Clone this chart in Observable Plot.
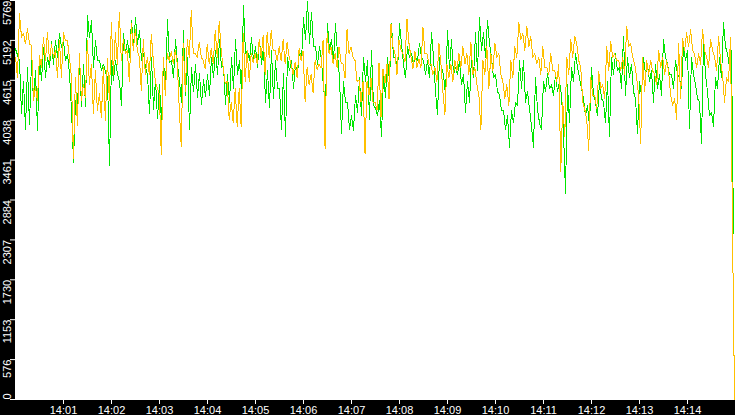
<!DOCTYPE html>
<html><head><meta charset="utf-8">
<script src="https://cdn.jsdelivr.net/npm/d3@7"></script>
<script src="https://cdn.jsdelivr.net/npm/@observablehq/plot@0.6"></script>
<style>html,body{margin:0;padding:0;background:#000;overflow:hidden}</style>
</head><body><div id="chart"></div>
<script>
const startTime = "2024-01-01T14:00:00Z";
const spanSeconds = 900;
const greenEndSeconds = 897.5;
const orangeEndSeconds = 898.8;
const yMax = 5769;
const yTickLabels = ["0","576","1153","1730","2307","2884","3461","4038","4615","5192","5769"];
const xTickLabels = ["14:01","14:02","14:03","14:04","14:05","14:06","14:07","14:08","14:09","14:10","14:11","14:12","14:13","14:14"];

const green = [
5070,4980,4900,4130,4600,3910,4800,3970,4900,4320,4760,3890,4950,4610,5090,4660,4950,4800,5170,4850,5190,4950,5290,5090,5190,4900,4990,4710,4180,3430,4320,4280,4850,4230,4850,4230,5550,5240,5480,4800,5190,4900,4900,4760,4850,4730,
4650,3380,4900,4610,4900,4700,4600,4250,5290,5000,5190,4950,5480,5100,5520,5140,5340,4900,5000,4800,4700,4130,4950,4200,4620,4060,4550,4000,4900,4500,5490,4870,4900,4650,5200,4850,4600,4300,5330,4400,4950,3900,4800,4450,
4850,4370,4710,4270,4620,4380,4700,4400,4950,4650,5050,4700,5200,4800,4820,4270,4700,4300,4950,4500,5200,4700,4900,4450,5700,5000,5050,4900,5230,4900,5100,4800,5200,4850,5100,4300,4750,4220,5050,4350,4900,4500,4500,3900,4720,3800,
4950,4750,4900,4500,4850,4700,5050,4900,5520,5200,5760,5150,5600,5100,5100,4850,5100,4900,4500,4270,5430,5050,5200,4900,5430,5000,4650,3850,4600,4300,4300,3900,4100,3890,4400,4150,4650,4100,4950,4600,4900,4050,5050,4250,
4210,4100,4320,3800,4700,4370,4950,4580,5430,4950,4950,4720,5430,5150,4850,4650,5100,4950,5000,4850,4950,4900,5150,4950,4900,4700,4900,4650,5300,4950,4450,4120,4950,4800,4700,4400,5340,4780,5200,4700,4800,4700,4900,4550,4700,4150,
4600,4300,4950,4650,5300,4750,5520,5050,5300,4950,5480,5150,4950,4650,4700,4450,4400,4180,4180,3900,4100,3650,4180,4000,4300,4250,4900,4500,4900,4300,4450,4200,3950,3650,4650,4200,4000,3900,4600,4450,4720,4500,4550,4400,
4700,4450,4600,4400,3860,2980,4550,4000,4800,4600,5000,4800,4650,4500,4350,4100,4250,3950,4800,4400,4300,4100,4600,4350,4300,4000,4600,3800,4950,4700,5000,4750,4800,4500,5250,4400,4950,4650,4850,4450,4350,3850,4600,4400,4950,4700,
4850,4600,4750,4300,4850,4500,4700,4400,5200,4950,4850,4700,4700,4500,4900,4700,4650,4500,5100,4900,5050,3920,4950,4700,4550,4350,4300,3700,5200,4700,4450,4100,4150,3950,4650,4500,4950,4650,5450,5100,5000,4800,5050,2400
];

const orange = [
4950,4660,5580,5240,5290,5140,5360,5140,5120,4320,4520,4320,4970,4800,5240,4900,5310,4900,5140,4950,5050,4660,5190,4660,5310,5190,5190,4950,4660,3480,4660,3960,5000,4320,4560,4370,5190,4560,4850,4130,4760,4180,4420,4080,4800,4030,
4930,4320,5450,4700,5300,4850,5600,4900,5200,5000,5050,4590,5430,5050,5350,5050,4950,4470,5200,4700,4950,4700,5280,4900,4600,4500,4420,3540,4950,4400,5000,4900,5030,4850,5050,4850,4200,3650,5150,4450,5200,4950,5620,5000,
5000,4950,5170,4950,4900,4780,5140,4850,5070,4850,5330,4950,5470,5040,4800,4560,4600,4050,4300,4000,4500,3950,4500,3940,5300,4600,5050,4600,5000,4870,5000,4850,5200,4950,5270,4700,5310,4950,5330,5050,5050,4900,5100,4900,5200,4850,
5170,4950,4850,4700,4870,4650,5080,4900,5040,4300,4800,4550,4700,4440,4900,4770,4850,4800,5200,3620,5290,5000,5100,4850,5000,4800,5100,4870,4850,4650,5350,5000,5100,4950,4900,4600,4620,4300,4600,3550,4600,4400,4650,4300,
4300,4180,4870,4080,4780,4570,4850,4350,5430,5100,5000,4700,5200,5050,5000,4880,5500,5150,4950,4780,5030,4800,4920,4800,5380,5000,5000,4850,4850,4700,4800,4600,5150,4850,4450,4120,4850,4650,4850,4600,4900,4750,5000,4800,5100,4850,
5000,4700,5170,4700,4800,4550,4400,3900,4900,4700,5100,4500,5000,4750,5150,4950,5000,4700,4600,4350,4550,4250,4900,4650,5100,4950,5450,5200,5300,5050,5400,5100,5250,4950,5000,4850,4950,4700,5100,4800,4800,4700,5000,4750,
4750,4600,4850,3300,4300,3800,4950,4700,5200,4950,5250,5150,4900,4800,4300,4200,4050,3600,4650,4400,4400,4200,4750,4500,4550,4350,5100,4750,5170,4950,5000,4900,4900,4750,4950,4700,5400,5100,5150,4950,4850,4650,4400,3700,4950,4450,
4900,4700,4900,4750,4700,4550,5050,4800,4950,4700,4900,4750,4400,4250,4350,4050,5150,4350,5220,5050,5300,5100,5350,5050,5000,4800,5000,4850,5350,5050,4950,4800,5200,5050,4950,4750,5250,4900,4700,4300,4650,4600,5230,2400,0
];

const t0 = new Date(startTime);
const toDate = s => new Date(+t0 + s * 1000);
const rows = (vals, endSeconds) => vals.map((v, i) => ({t: toDate(i * endSeconds / (vals.length - 1)), v}));
const yTicks = yTickLabels.map((l, i) => ({v: yMax * i / (yTickLabels.length - 1), l}));
const xTicks = xTickLabels.map(l => new Date(`2024-01-01T${l}:00Z`));
const font = "'Liberation Sans', Arial, sans-serif";

const chart = Plot.plot({
  width: 735,
  height: 415,
  marginLeft: 15,
  marginRight: 0,
  marginTop: 0,
  marginBottom: 16,
  style: {background: "#000", color: "#fff", fontFamily: font, fontSize: "11px"},
  x: {type: "utc", domain: [t0, toDate(spanSeconds)], label: null},
  y: {domain: [0, yMax], label: null},
  marks: [
    Plot.frame({fill: "#fff", stroke: "#fff"}),
    Plot.line(rows(green, greenEndSeconds), {x: "t", y: "v", stroke: "#00e600", strokeWidth: 1, shapeRendering: "crispEdges"}),
    Plot.line(rows(orange, orangeEndSeconds), {x: "t", y: "v", stroke: "#ffc000", strokeWidth: 1, shapeRendering: "crispEdges"}),
    Plot.axisX({ticks: xTicks, tickFormat: d3.utcFormat("%H:%M"), tickSize: 5, tickPadding: 2, label: null, fontSize: 11}),
    Plot.axisY({ticks: yTicks.map(d => d.v), tickSize: 5, tickFormat: () => "", label: null}),
    Plot.text(yTicks.slice(1), {y: "v", text: "l", frameAnchor: "left", dx: -8.5, rotate: -90, textAnchor: "end", fill: "#fff", fontSize: 11}),
    Plot.text(yTicks.slice(0, 1), {y: "v", text: "l", frameAnchor: "left", dx: -8.5, rotate: -90, textAnchor: "start", fill: "#fff", fontSize: 11})
  ]
});
document.getElementById("chart").appendChild(chart);
</script>
</body></html>
